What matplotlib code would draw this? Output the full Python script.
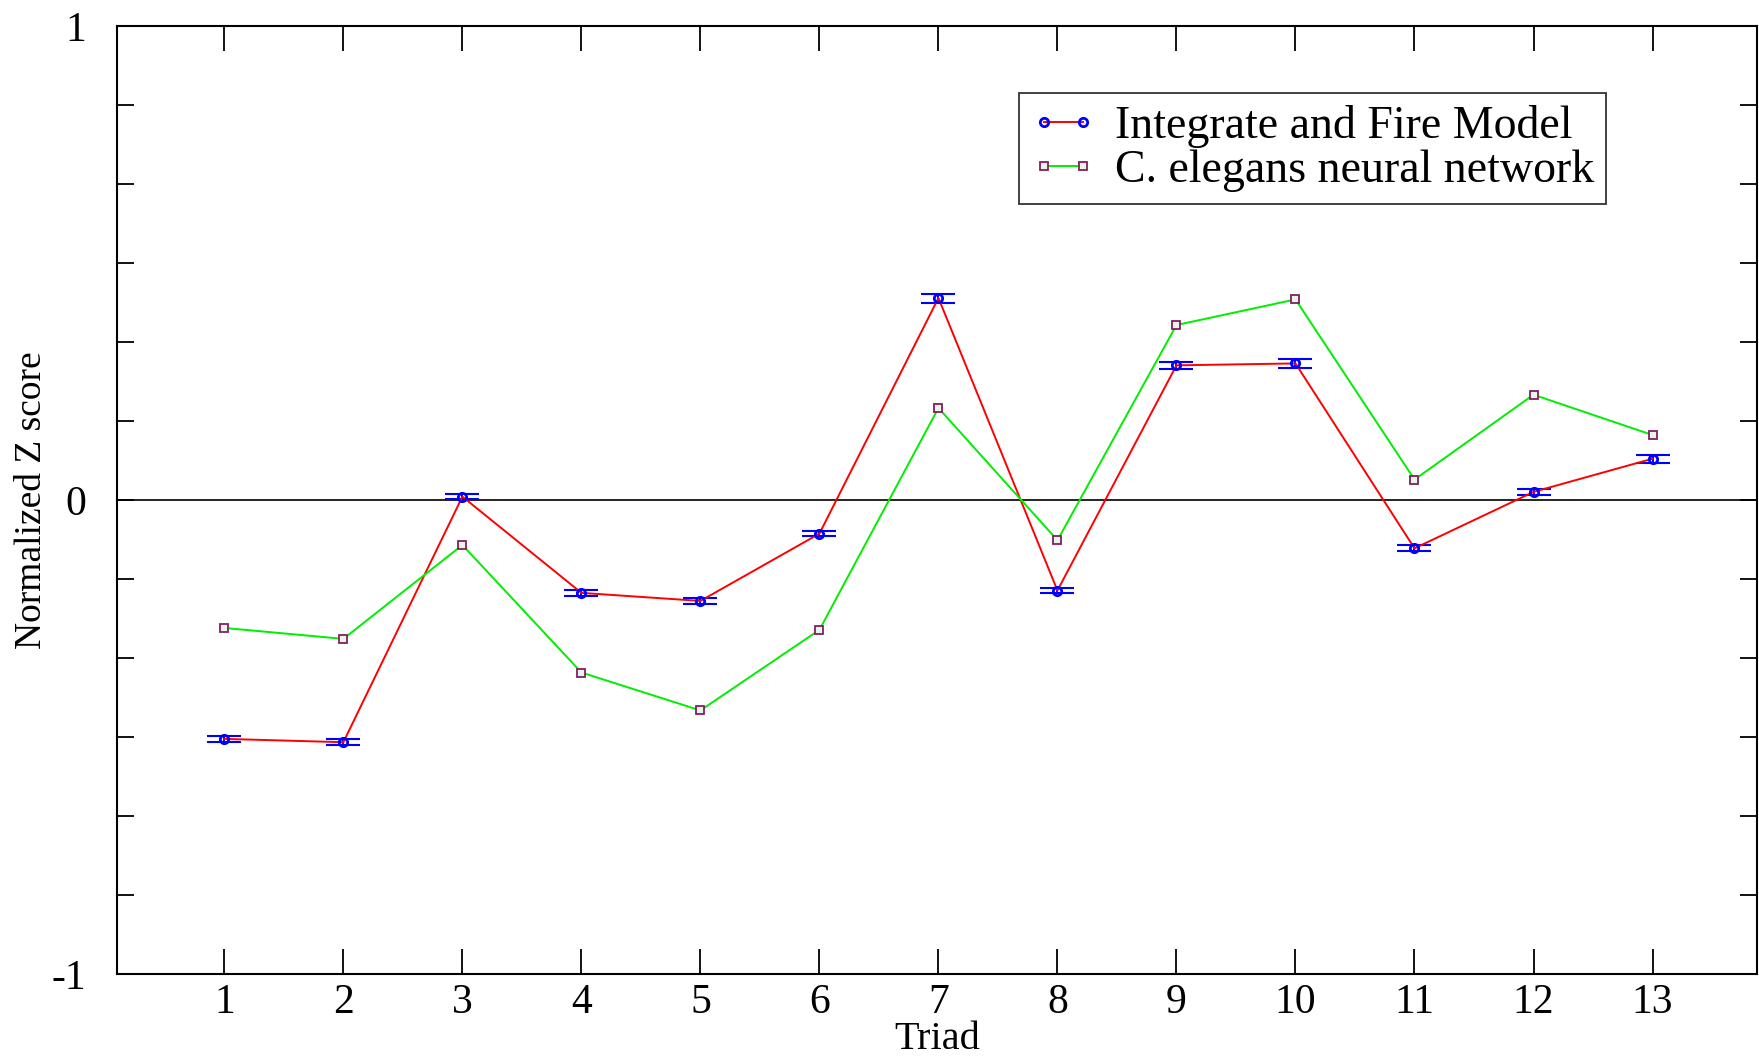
import numpy as np
import matplotlib.pyplot as plt

plt.rcParams['font.family'] = ['Liberation Serif', 'DejaVu Serif']

triads = list(range(1, 14))
if_model = [-0.504, -0.511, 0.007, -0.196, -0.213, -0.071, 0.426, -0.191, 0.284, 0.288, -0.102, 0.017, 0.087]
if_err = [0.006, 0.006, 0.005, 0.006, 0.007, 0.006, 0.0095, 0.006, 0.008, 0.009, 0.006, 0.0056, 0.0084]
celegans = [-0.270, -0.293, -0.095, -0.364, -0.444, -0.274, 0.194, -0.085, 0.369, 0.423, 0.043, 0.222, 0.137]

fig = plt.figure(figsize=(17.59, 10.57), dpi=100)
ax = fig.add_axes([0.0665, 0.0785, 0.9325, 0.897])

ax.axhline(0, color='black', lw=1.2, zorder=1)

ax.plot(triads, if_model, color='#ff0000', lw=1.4, marker='o', ms=6, mfc='none',
        mec='blue', mew=2, label='Integrate and Fire Model', zorder=3)
ax.errorbar(triads, if_model, yerr=if_err, fmt='none', ecolor='blue',
            elinewidth=1.4, capsize=12.5, capthick=1.5, zorder=2)
ax.plot(triads, celegans, color='#00ee00', lw=1.4, marker='s', ms=6, mfc='#e8f4e8',
        mec='#802060', mew=1.3, label='C. elegans neural network', zorder=3)

ax.set_xlim(0.0975, 13.88)
ax.set_ylim(-1, 1)
ax.set_xticks(triads)
yt = np.linspace(-1, 1, 13)
ax.set_yticks(yt)
ax.set_yticklabels(['-1', '', '', '', '', '', '0', '', '', '', '', '', '1'])
ax.tick_params(axis='x', direction='in', top=True, length=18, width=1.3,
               labelsize=30, pad=7)
ax.tick_params(axis='y', direction='in', right=True, length=12, width=1.3,
               labelsize=30, pad=22)
for s in ax.spines.values():
    s.set_linewidth(1.5)

ax.set_xlabel('Triad', fontsize=29, labelpad=-1)
ax.set_ylabel('Normalized Z score', fontsize=27, labelpad=2)

leg = ax.legend(loc='upper left', bbox_to_anchor=(0.5497, 0.929), fontsize=33,
                frameon=True, fancybox=False, edgecolor='black', numpoints=2,
                handlelength=1.45, borderpad=0.25, labelspacing=0.05,
                handletextpad=0.4, borderaxespad=0)
leg.get_frame().set_linewidth(1.3)

fig.savefig('out.png', dpi=100)
